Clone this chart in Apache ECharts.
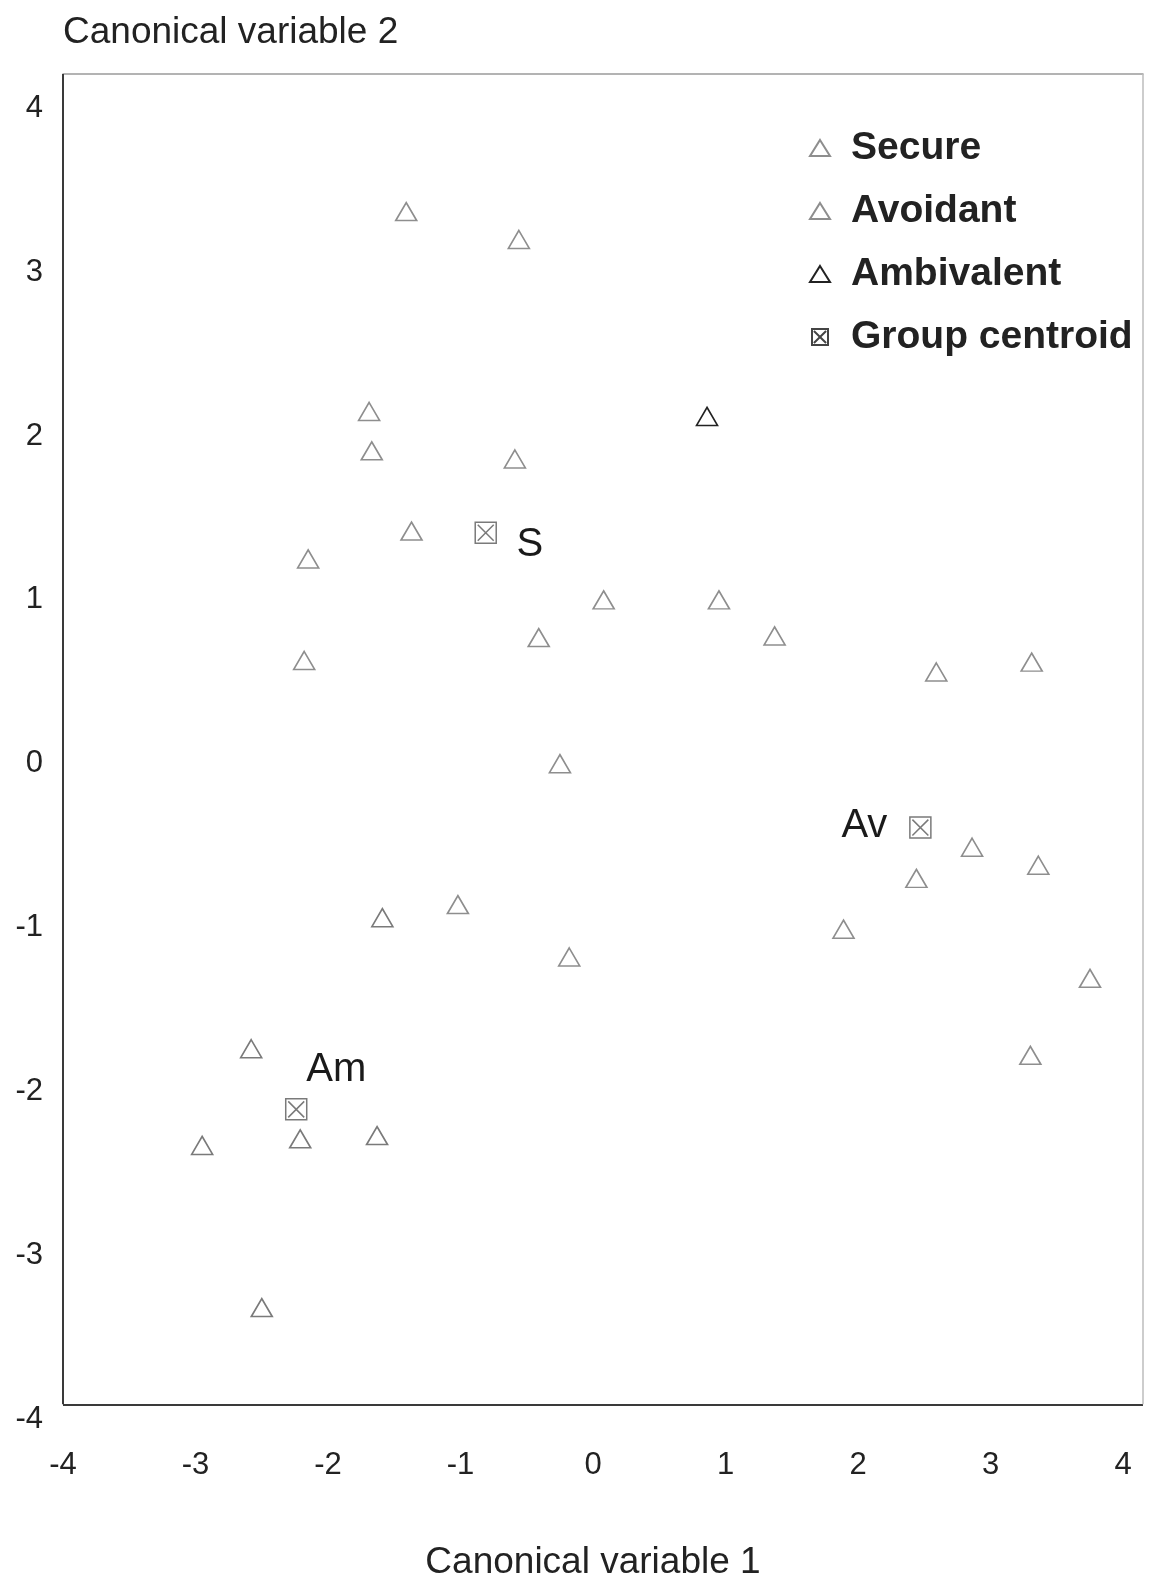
<!DOCTYPE html>
<html>
<head>
<meta charset="utf-8">
<script src="https://cdn.jsdelivr.net/npm/echarts@6/dist/echarts.min.js"></script>
<style>html,body{margin:0;padding:0;background:#fff}#c{width:1152px;height:1586px}</style>
</head>
<body>
<div id="c"></div>
<script>
// ---- data ----
const secureX = [-1.41, -0.56, -1.69, -1.67, -0.59, 0.86, -1.37, -2.15, 0.08, -0.41, -2.18, -0.25, -1.02, -0.18];
const secureY = [3.37, 3.20, 2.15, 1.91, 1.86, 2.12, 1.42, 1.25, 1.00, 0.77, 0.63, 0.00, -0.86, -1.18];
const avoidantX = [0.95, 1.37, 2.59, 3.31, 2.86, 3.36, 2.44, 1.89, 3.75, 3.30];
const avoidantY = [1.00, 0.78, 0.56, 0.62, -0.51, -0.62, -0.70, -1.01, -1.31, -1.78];
const ambivalentX = [-1.59, -2.58, -2.95, -2.21, -1.63, -2.50];
const ambivalentY = [-0.94, -1.74, -2.33, -2.29, -2.27, -3.32];
const centroidNames = ['S', 'Av', 'Am'];
const centroidX = [-0.81, 2.47, -2.24];
const centroidY = [1.41, -0.39, -2.11];
const seriesNames = ['Secure', 'Avoidant', 'Ambivalent', 'Group centroid'];
const xAxisName = 'Canonical variable 1';
const yAxisName = 'Canonical variable 2';
const X_MIN = -4, X_MAX = 4.15, Y_MIN = -4, Y_MAX = 4.21, Y_FRAME_BOTTOM = -3.91;
const TICK_INTERVAL = 1;

// ---- build ----
const FONT = '"Liberation Sans", Arial, Helvetica, sans-serif';
const zip = (xs, ys) => xs.map((x, i) => [x, ys[i]]);
const boxX = 'path://M0,0H10V10H0Z M1.2,1.2L8.8,8.8 M8.8,1.2L1.2,8.8';
const intLabel = v => (Math.abs(v - Math.round(v)) < 1e-6 ? String(Math.round(v)) : '');
const triStyle = c => ({ color: 'rgba(0,0,0,0)', borderColor: c, borderWidth: 1.6, opacity: 1 });

const secureData = zip(secureX, secureY).map((p, i) =>
  i === 5 ? { value: p, itemStyle: { borderColor: '#222' } } : p);

const centroidLabelOffsets = [[44, 12], [-56, -2], [40, -39]];
const centroidData = centroidNames.map((n, i) => ({
  name: n,
  value: [centroidX[i], centroidY[i]],
  label: { show: true, formatter: n, position: 'inside', offset: centroidLabelOffsets[i],
           color: '#1a1a1a', fontSize: 40, fontFamily: FONT }
}));

const chart = echarts.init(document.getElementById('c'));
chart.setOption({
  animation: false,
  backgroundColor: '#fff',
  textStyle: { fontFamily: FONT },
  grid: { left: 63, right: 9, top: 74, bottom: 165, containLabel: false },
  legend: {
    orient: 'vertical',
    left: 804,
    top: 123,
    itemWidth: 20,
    itemHeight: 16,
    itemGap: 23,
    symbolKeepAspect: true,
    textStyle: { fontSize: 39, fontWeight: 'bold', color: '#222', lineHeight: 40, padding: [0, 0, 0, 16], fontFamily: FONT },
    data: [
      { name: seriesNames[0] },
      { name: seriesNames[1] },
      { name: seriesNames[2], itemStyle: { borderColor: '#222' } },
      { name: seriesNames[3], icon: boxX, itemStyle: { borderColor: '#444' } }
    ]
  },
  xAxis: [{
    type: 'value', min: X_MIN, max: X_MAX, interval: TICK_INTERVAL,
    name: xAxisName, nameLocation: 'middle', nameGap: 125,
    nameTextStyle: { fontSize: 37, color: '#222', fontFamily: FONT, padding: [0, 20, 0, 0] },
    axisLine: { show: false, onZero: false }, axisTick: { show: false }, splitLine: { show: false },
    axisLabel: { fontSize: 31, color: '#222', margin: 31, formatter: intLabel, fontFamily: FONT }
  }, {
    type: 'value', position: 'top', min: X_MIN, max: X_MAX,
    axisLine: { show: true, onZero: false, lineStyle: { color: '#9a9a9a', width: 1.5 } },
    axisTick: { show: false }, axisLabel: { show: false }, splitLine: { show: false }
  }],
  yAxis: [{
    type: 'value', min: Y_MIN, max: Y_MAX, interval: TICK_INTERVAL,
    name: yAxisName, nameLocation: 'end', nameGap: 41,
    nameTextStyle: { fontSize: 37, color: '#222', align: 'left', verticalAlign: 'middle', fontFamily: FONT },
    axisLine: { show: false, onZero: false }, axisTick: { show: false }, splitLine: { show: false },
    axisLabel: { fontSize: 31, color: '#222', margin: 20, formatter: intLabel, fontFamily: FONT }
  }],
  series: [
    {
      name: seriesNames[0], type: 'scatter', symbol: 'triangle', symbolSize: [21, 18],
      itemStyle: triStyle('#8e8e8e'), data: secureData,
      markLine: {
        silent: true, symbol: 'none', label: { show: false },
        data: [
          [{ coord: [X_MIN, Y_FRAME_BOTTOM] }, { coord: [X_MAX, Y_FRAME_BOTTOM] }],
          [{ coord: [X_MIN, Y_FRAME_BOTTOM] }, { coord: [X_MIN, Y_MAX] }],
          [{ coord: [X_MAX, Y_FRAME_BOTTOM], lineStyle: { color: '#bdbdbd', width: 1.5 } },
           { coord: [X_MAX, Y_MAX] }]
        ],
        lineStyle: { color: '#3a3a3a', width: 2, type: 'solid' }
      }
    },
    {
      name: seriesNames[1], type: 'scatter', symbol: 'triangle', symbolSize: [21, 18],
      itemStyle: triStyle('#8e8e8e'), data: zip(avoidantX, avoidantY)
    },
    {
      name: seriesNames[2], type: 'scatter', symbol: 'triangle', symbolSize: [21, 18],
      itemStyle: triStyle('#7a7a7a'), data: zip(ambivalentX, ambivalentY)
    },
    {
      name: seriesNames[3], type: 'scatter', symbol: boxX, symbolSize: 21,
      itemStyle: { color: 'rgba(0,0,0,0)', borderColor: '#7a7a7a', borderWidth: 1.5, opacity: 1 },
      data: centroidData
    }
  ]
});
</script>
</body>
</html>
